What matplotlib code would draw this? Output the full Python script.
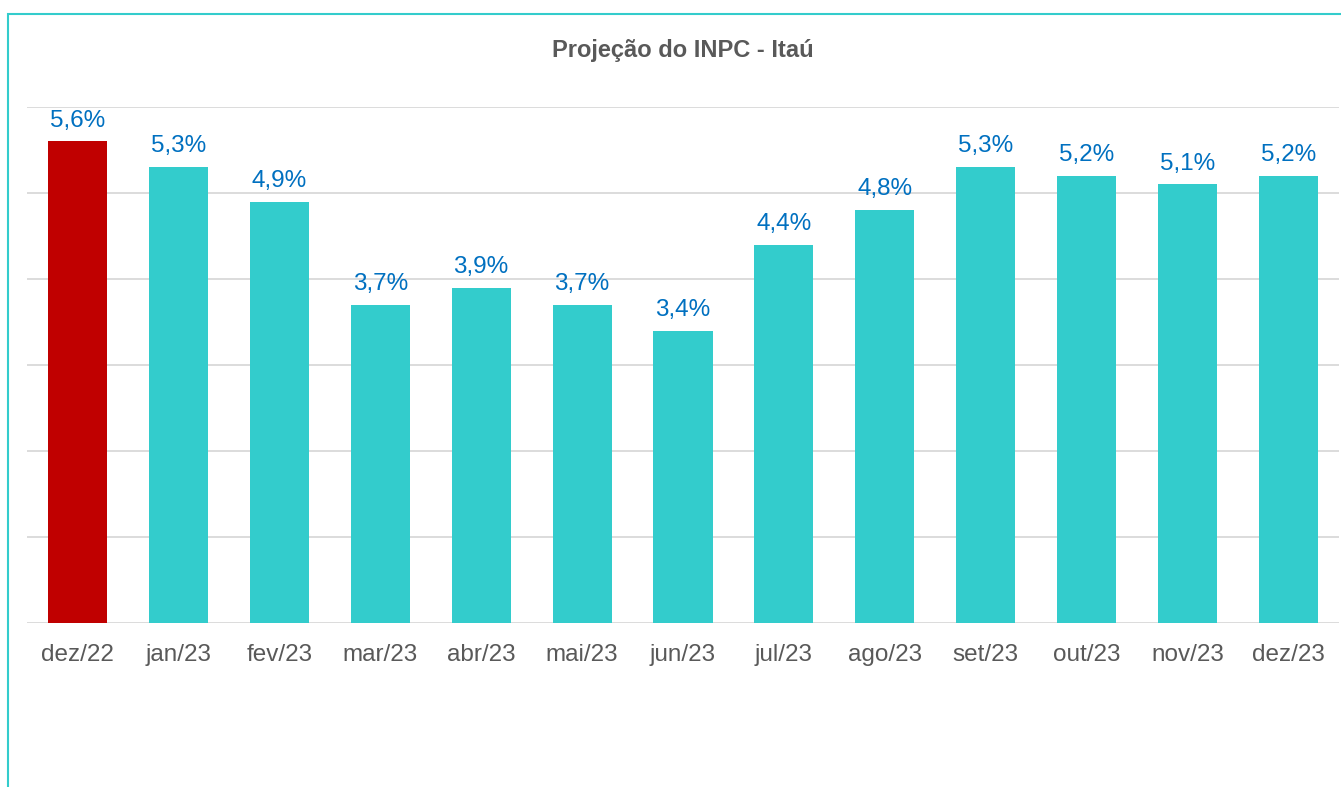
import matplotlib.pyplot as plt
from matplotlib.patches import Rectangle

# monthly INPC projection (%)
months = ['dez/22', 'jan/23', 'fev/23', 'mar/23', 'abr/23', 'mai/23', 'jun/23',
          'jul/23', 'ago/23', 'set/23', 'out/23', 'nov/23', 'dez/23']
inpc = [5.6, 5.3, 4.9, 3.7, 3.9, 3.7, 3.4, 4.4, 4.8, 5.3, 5.2, 5.1, 5.2]

TEAL = '#33CCCC'
RED = '#C00000'
GRAY = '#595959'
BLUE = '#0070C0'

plt.rcParams['font.family'] = ['Liberation Sans', 'DejaVu Sans']

W, H = 1341, 787
fig = plt.figure(figsize=(W / 100, H / 100), dpi=100)

# chart-area frame (left and top edges only visible)
fig.patches.append(Rectangle((8 / W, -0.1), 1.2, 1.1 - 14 / H,
                             transform=fig.transFigure, fill=False,
                             edgecolor=TEAL, linewidth=1.5))

ax = fig.add_axes([27 / W, (H - 623) / H, 1312 / W, 516 / H])
colors = [RED] + [TEAL] * (len(months) - 1)
x = range(len(months))
bars = ax.bar(x, inpc, width=0.585, color=colors, zorder=3)

for b, v in zip(bars, inpc):
    ax.annotate(f'{v:.1f}%'.replace('.', ','),
                (b.get_x() + b.get_width() / 2, b.get_height()),
                xytext=(0, 7), textcoords='offset points',
                ha='center', va='bottom', fontsize=17.5, color=BLUE)

ax.set_xlim(-0.5, len(months) - 0.5)
ax.set_ylim(0, 6)
ax.set_yticks(range(0, 7))
ax.yaxis.grid(True, color='#D9D9D9', linewidth=1.3, zorder=0)
ax.tick_params(axis='y', left=False, labelleft=False)
ax.set_xticks(list(x))
ax.set_xticklabels(months, fontsize=17.5, color=GRAY)
ax.tick_params(axis='x', length=0, pad=15)
for s in ax.spines.values():
    s.set_visible(False)

fig.text(683 / W, (H - 50) / H, 'Projeção do INPC - Itaú', ha='center', va='center',
         fontsize=17, fontweight='bold', color=GRAY)

fig.savefig('out.png', dpi=100)
